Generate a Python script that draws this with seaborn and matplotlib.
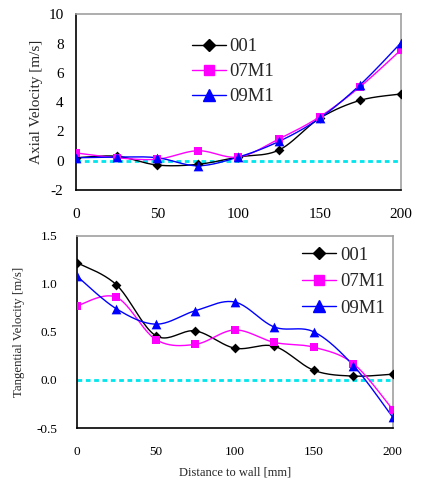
import numpy as np
import pandas as pd
import matplotlib
matplotlib.use("Agg")
import matplotlib.pyplot as plt
import seaborn as sns
from matplotlib.lines import Line2D

sns.set_theme(style="white")
plt.rcParams['font.family'] = ['Liberation Serif', 'DejaVu Serif']
plt.rcParams['axes.unicode_minus'] = False

distance = [0, 25, 50, 75, 100, 125, 150, 175, 200]
series_names = ["001", "07M1", "09M1"]

axial_001 = [0.2, 0.3, -0.3, -0.25, 0.25, 0.73, 2.9, 4.13, 4.56]
axial_07M1 = [0.53, 0.2, 0.1, 0.68, 0.25, 1.49, 3.0, 5.07, 7.58]
axial_09M1 = [0.2, 0.25, 0.2, -0.35, 0.25, 1.32, 2.9, 5.2, 8.06]

tang_001 = [1.22, 0.99, 0.46, 0.51, 0.33, 0.35, 0.10, 0.04, 0.06]
tang_07M1 = [0.77, 0.86, 0.42, 0.37, 0.52, 0.39, 0.34, 0.17, -0.31]
tang_09M1 = [1.08, 0.74, 0.58, 0.72, 0.81, 0.55, 0.50, 0.15, -0.39]

colors = {"001": "#000000", "07M1": "#ff00ff", "09M1": "#0000ff"}
markers = {"001": "D", "07M1": "s", "09M1": "^"}
msizes = {"001": 5, "07M1": 6, "09M1": 7}


def smooth(x, y, n=24):
    x = np.asarray(x, float); y = np.asarray(y, float)
    P = np.column_stack([x, y])
    out = []
    for i in range(len(P) - 1):
        p0 = P[i - 1] if i > 0 else P[i]
        p1 = P[i]; p2 = P[i + 1]
        p3 = P[i + 2] if i + 2 < len(P) else P[i + 1]
        c1 = p1 + (p2 - p0) / 6.0
        c2 = p2 - (p3 - p1) / 6.0
        t = np.linspace(0, 1, n)[:, None]
        seg = ((1 - t) ** 3) * p1 + 3 * ((1 - t) ** 2) * t * c1 + 3 * (1 - t) * t ** 2 * c2 + t ** 3 * p2
        out.append(seg if i == 0 else seg[1:])
    s = np.vstack(out)
    return s[:, 0], s[:, 1]


def make_df(vals):
    rows = []
    for name, v in zip(series_names, vals):
        for d, val in zip(distance, v):
            rows.append({"Distance": d, "Value": val, "Series": name})
    return pd.DataFrame(rows)


fig = plt.figure(figsize=(4.27, 4.82), dpi=100)
ax1 = fig.add_axes([0.178, 0.606, 0.761, 0.364])
ax2 = fig.add_axes([0.180, 0.112, 0.740, 0.399])


def draw(ax, vals):
    df = make_df(vals)
    ax.axhline(0, color="#00e5ee", lw=2, ls=(0, (1.7, 1.3)), zorder=1)
    for name in series_names:
        sub = df[df.Series == name]
        sx, sy = smooth(sub.Distance.values, sub.Value.values)
        ax.plot(sx, sy, color=colors[name], lw=1.0, zorder=2)
        sns.scatterplot(data=sub, x="Distance", y="Value", ax=ax, color=colors[name],
                        marker=markers[name], s=msizes[name] ** 2, edgecolor=colors[name],
                        linewidth=0, legend=False, zorder=3)
    ax.set_xlim(0, 200)
    ax.set_xticks([0, 50, 100, 150, 200])
    ax.set_xlabel("")
    for sp in ["left", "bottom"]:
        ax.spines[sp].set_color("black"); ax.spines[sp].set_linewidth(1.2)
    for sp in ["top", "right"]:
        ax.spines[sp].set_color("#a0a0a0"); ax.spines[sp].set_linewidth(1.2)
    ax.tick_params(direction="in", length=4, width=1, color="black", labelcolor="black")


draw(ax1, [axial_001, axial_07M1, axial_09M1])
ax1.set_ylim(-2, 10)
ax1.set_yticks([-2, 0, 2, 4, 6, 8, 10])
ax1.tick_params(labelsize=11)
ax1.tick_params(axis="y", pad=9)
ax1.tick_params(axis="x", pad=13)
ax1.set_ylabel("Axial Velocity [m/s]", fontsize=11, labelpad=4)

draw(ax2, [tang_001, tang_07M1, tang_09M1])
ax2.set_ylim(-0.5, 1.5)
ax2.set_yticks([-0.5, 0.0, 0.5, 1.0, 1.5])
ax2.set_yticklabels(["-0.5", "0.0", "0.5", "1.0", "1.5"])
ax2.tick_params(labelsize=9.5)
ax2.tick_params(axis="y", pad=14)
ax2.tick_params(axis="x", pad=13)
ax2.set_ylabel("Tangential Velocity [m/s]", fontsize=9.3, labelpad=8)
ax2.set_xlabel("Distance to wall [mm]", fontsize=9, labelpad=6)

handles = [Line2D([0], [0], color=colors[n], marker=markers[n], markersize=msizes[n] + 1,
                  lw=1.0) for n in series_names]
ax1.legend(handles, series_names, loc="upper left", bbox_to_anchor=(0.305, 0.96),
           frameon=False, fontsize=13.5, handlelength=1.8, handletextpad=0.2, labelspacing=0.42)
ax2.legend(handles, series_names, loc="upper left", bbox_to_anchor=(0.66, 1.03),
           frameon=False, fontsize=13.5, handlelength=1.8, handletextpad=0.2, labelspacing=0.5)

fig.savefig("out.png", dpi=100)
